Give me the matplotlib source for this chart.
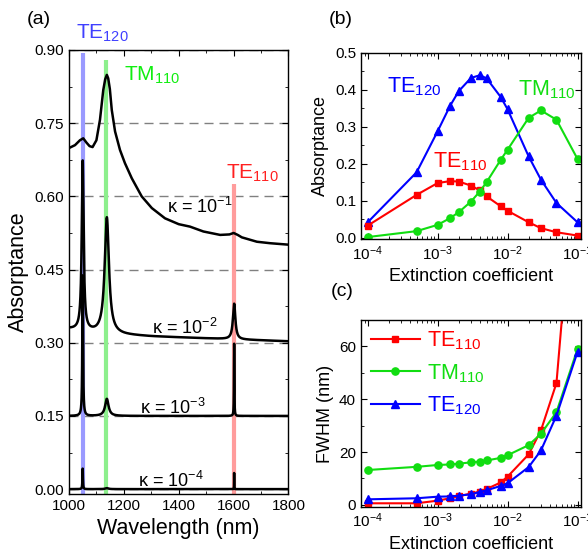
import numpy as np
import matplotlib
matplotlib.use("Agg")
from matplotlib import pyplot as plt
from matplotlib.ticker import MultipleLocator, FormatStrFormatter, LogLocator, NullFormatter

plt.rcParams['font.family'] = ['Liberation Sans', 'DejaVu Sans']
plt.rcParams['mathtext.fontset'] = 'custom'
plt.rcParams['mathtext.rm'] = 'Liberation Sans'
plt.rcParams['mathtext.it'] = 'Liberation Sans:italic'
plt.rcParams['mathtext.default'] = 'regular'

# ==============================
#  Dados
# ==============================

# coeficientes de extinção usados em (b) e (c)
kappa = [1e-4, 5e-4, 1e-3, 1.5e-3, 2e-3, 3e-3, 4e-3, 5e-3, 8e-3, 1e-2, 2e-2, 3e-2, 5e-2, 1e-1]

# absortância de pico de cada modo
abs_te110 = [0.033, 0.116, 0.148, 0.153, 0.152, 0.141, 0.128, 0.112, 0.085, 0.073, 0.042, 0.026, 0.015, 0.006]
abs_tm110 = [0.002, 0.018, 0.035, 0.053, 0.069, 0.098, 0.125, 0.150, 0.211, 0.238, 0.324, 0.344, 0.319, 0.213]
abs_te120 = [0.042, 0.177, 0.288, 0.356, 0.396, 0.432, 0.439, 0.431, 0.380, 0.347, 0.220, 0.157, 0.094, 0.042]

# largura a meia altura (nm)
fwhm_te110 = [0.6, 0.6, 1.6, 2.5, 3.3, 4.3, 5.0, 6.0, 8.5, 10.7, 19.1, 28.2, 46.1, 140.0]
fwhm_tm110 = [13.2, 14.4, 15.1, 15.3, 15.6, 16.1, 16.4, 16.8, 17.8, 18.8, 22.6, 26.9, 35.1, 59.0]
fwhm_te120 = [2.1, 2.5, 3.1, 3.2, 3.5, 4.0, 4.9, 5.5, 7.2, 8.2, 14.3, 20.6, 33.8, 57.9]

# comprimentos de onda de ressonância (nm)
lam_te120 = 1050
lam_tm110 = 1138
lam_te110 = 1602

# espectros com Lorentzianas (kappa, deslocamento vertical)
spec_kappa = [1e-4, 1e-3, 1e-2]
spec_offset = [0.0, 0.15, 0.30]

# fundo não ressonante para kappa = 1e-2
bg_wl = [1000, 1100, 1200, 1300, 1400, 1500, 1600, 1700, 1800]
bg_k2 = [0.028, 0.020, 0.016, 0.013, 0.011, 0.009, 0.007, 0.005, 0.003]

# espectro completo para kappa = 1e-1 (deslocado de 0.45)
k1_offset = 0.45
k1_wl = [1000, 1022, 1040, 1052, 1064, 1075, 1086, 1100, 1113, 1125, 1132, 1138,
         1143, 1149, 1156, 1168, 1186, 1204, 1229, 1265, 1302, 1350, 1400, 1441,
         1490, 1551, 1585, 1600, 1615, 1630, 1685, 1733, 1800]
k1_abs = [0.249, 0.255, 0.265, 0.269, 0.260, 0.253, 0.251, 0.265, 0.307, 0.368, 0.390, 0.399,
          0.392, 0.370, 0.327, 0.283, 0.245, 0.218, 0.187, 0.150, 0.126, 0.105, 0.093, 0.088,
          0.078, 0.071, 0.072, 0.075, 0.071, 0.066, 0.057, 0.054, 0.051]

RED = '#ff0000'
GREEN = '#11dd11'
BLUE = '#0000ff'


def lorentz(wl, center, height, fwhm):
    """Perfil Lorentziano com altura e largura dadas."""
    return height / (1.0 + ((wl - center) / (fwhm / 2.0)) ** 2)


def style_axes(ax):
    ax.tick_params(which='both', direction='in', top=True, right=True, labelsize=11)
    ax.tick_params(which='major', length=4)
    ax.tick_params(which='minor', length=2)
    for s in ax.spines.values():
        s.set_linewidth(1.0)


fig = plt.figure(figsize=(5.88, 5.53), dpi=100)
ax_a = fig.add_axes([0.1173, 0.1067, 0.3733, 0.8029])
ax_b = fig.add_axes([0.6139, 0.5673, 0.3741, 0.3374])
ax_c = fig.add_axes([0.6139, 0.0832, 0.3741, 0.3382])

# ==============================
#  (a) Espectros
# ==============================
wl = np.linspace(1000, 1800, 16001)

# faixas coloridas das ressonâncias
ax_a.plot([lam_te120, lam_te120], [-0.01, 0.894], color='#9a9aff', lw=3.0, zorder=1, solid_capstyle='butt')
ax_a.plot([lam_tm110 - 3, lam_tm110 - 3], [-0.01, 0.880], color='#8def8d', lw=3.0, zorder=1, solid_capstyle='butt')
ax_a.plot([lam_te110, lam_te110], [-0.01, 0.625], color='#ff9c9c', lw=3.0, zorder=1, solid_capstyle='butt')

for k, off in zip(spec_kappa, spec_offset):
    i = kappa.index(k)
    y = np.full_like(wl, off)
    if k == 1e-2:
        y += np.interp(wl, bg_wl, bg_k2)
    y += lorentz(wl, lam_te120, abs_te120[i], fwhm_te120[i])
    y += lorentz(wl, lam_tm110, abs_tm110[i], fwhm_tm110[i])
    y += lorentz(wl, lam_te110, abs_te110[i], fwhm_te110[i])
    ax_a.plot(wl, y, color='black', lw=1.8, zorder=3)

ax_a.plot(k1_wl, np.array(k1_abs) + k1_offset, color='black', lw=1.8, zorder=3)

ax_a.set_xlim(1000, 1800)
ax_a.set_ylim(-0.01, 0.90)
ax_a.xaxis.set_major_locator(MultipleLocator(200))
ax_a.xaxis.set_minor_locator(MultipleLocator(100))
ax_a.yaxis.set_major_locator(MultipleLocator(0.15))
ax_a.yaxis.set_minor_locator(MultipleLocator(0.075))
ax_a.yaxis.set_major_formatter(FormatStrFormatter('%.2f'))
ax_a.yaxis.grid(True, color='#808080', ls=(0, (6.5, 4.3)), lw=1.0, zorder=0.5)
ax_a.set_axisbelow(True)
style_axes(ax_a)
ax_a.set_xlabel('Wavelength (nm)', fontsize=15.5)
ax_a.set_ylabel('Absorptance', fontsize=15.5)

ax_a.text(1120, 0.935, 'TE$_{120}$', color='#4040ff', fontsize=15, ha='center', va='center', clip_on=False)
ax_a.text(1303, 0.849, 'TM$_{110}$', color='#11ee11', fontsize=15, ha='center', va='center')
ax_a.text(1667, 0.648, 'TE$_{110}$', color='#ff2020', fontsize=15, ha='center', va='center')

ax_a.text(1478, 0.578, 'κ = 10$^{-1}$', fontsize=13, ha='center', va='center')
ax_a.text(1423, 0.331, 'κ = 10$^{-2}$', fontsize=13, ha='center', va='center')
ax_a.text(1380, 0.166, 'κ = 10$^{-3}$', fontsize=13, ha='center', va='center')
ax_a.text(1372, 0.016, 'κ = 10$^{-4}$', fontsize=13, ha='center', va='center')

# ==============================
#  (b) Absortância x kappa
# ==============================
ax_b.plot(kappa, abs_te120, color=BLUE, marker='^', ms=6, lw=1.5)
ax_b.plot(kappa, abs_te110, color=RED, marker='s', ms=4.8, lw=1.5)
ax_b.plot(kappa, abs_tm110, color=GREEN, marker='o', ms=5.2, lw=1.5)
ax_b.set_xscale('log')
ax_b.set_xlim(8e-5, 1.12e-1)
ax_b.set_ylim(-0.004, 0.5)
ax_b.yaxis.set_major_locator(MultipleLocator(0.1))
ax_b.yaxis.set_minor_locator(MultipleLocator(0.05))
ax_b.yaxis.set_major_formatter(FormatStrFormatter('%.1f'))
ax_b.set_xlabel('Extinction coefficient', fontsize=13)
ax_b.set_ylabel('Absorptance', fontsize=13)
ax_b.text(4.58e-4, 0.409, 'TE$_{120}$', color=BLUE, fontsize=15.5, ha='center', va='center')
ax_b.text(0.0364, 0.401, 'TM$_{110}$', color=GREEN, fontsize=15.5, ha='center', va='center')
ax_b.text(2.09e-3, 0.206, 'TE$_{110}$', color=RED, fontsize=15.5, ha='center', va='center')

# ==============================
#  (c) FWHM x kappa
# ==============================
ax_c.plot(kappa, fwhm_te110, color=RED, marker='s', ms=4.8, lw=1.5, label='TE$_{110}$')
ax_c.plot(kappa, fwhm_tm110, color=GREEN, marker='o', ms=5.2, lw=1.5, label='TM$_{110}$')
ax_c.plot(kappa, fwhm_te120, color=BLUE, marker='^', ms=6, lw=1.5, label='TE$_{120}$')
ax_c.set_xscale('log')
ax_c.set_xlim(8e-5, 1.12e-1)
ax_c.set_ylim(-0.8, 70)
ax_c.yaxis.set_major_locator(MultipleLocator(20))
ax_c.yaxis.set_minor_locator(MultipleLocator(10))
ax_c.set_xlabel('Extinction coefficient', fontsize=13)
ax_c.set_ylabel('FWHM (nm)', fontsize=13)
ax_c.legend(loc='upper left', frameon=False, fontsize=15.5, labelcolor='linecolor',
            handlelength=2.3, handletextpad=0.3, labelspacing=0.45,
            borderaxespad=0.15, borderpad=0.3)

for ax in (ax_b, ax_c):
    ax.xaxis.set_major_locator(LogLocator(base=10, numticks=10))
    ax.xaxis.set_minor_locator(LogLocator(base=10, subs=np.arange(2, 10), numticks=10))
    ax.xaxis.set_minor_formatter(NullFormatter())
    style_axes(ax)

fig.text(39 / 588, 1 - 20 / 553, '(a)', fontsize=14, ha='center', va='center')
fig.text(341 / 588, 1 - 20 / 553, '(b)', fontsize=14, ha='center', va='center')
fig.text(342 / 588, 1 - 291 / 553, '(c)', fontsize=14, ha='center', va='center')

fig.savefig('out.png', dpi=100)
